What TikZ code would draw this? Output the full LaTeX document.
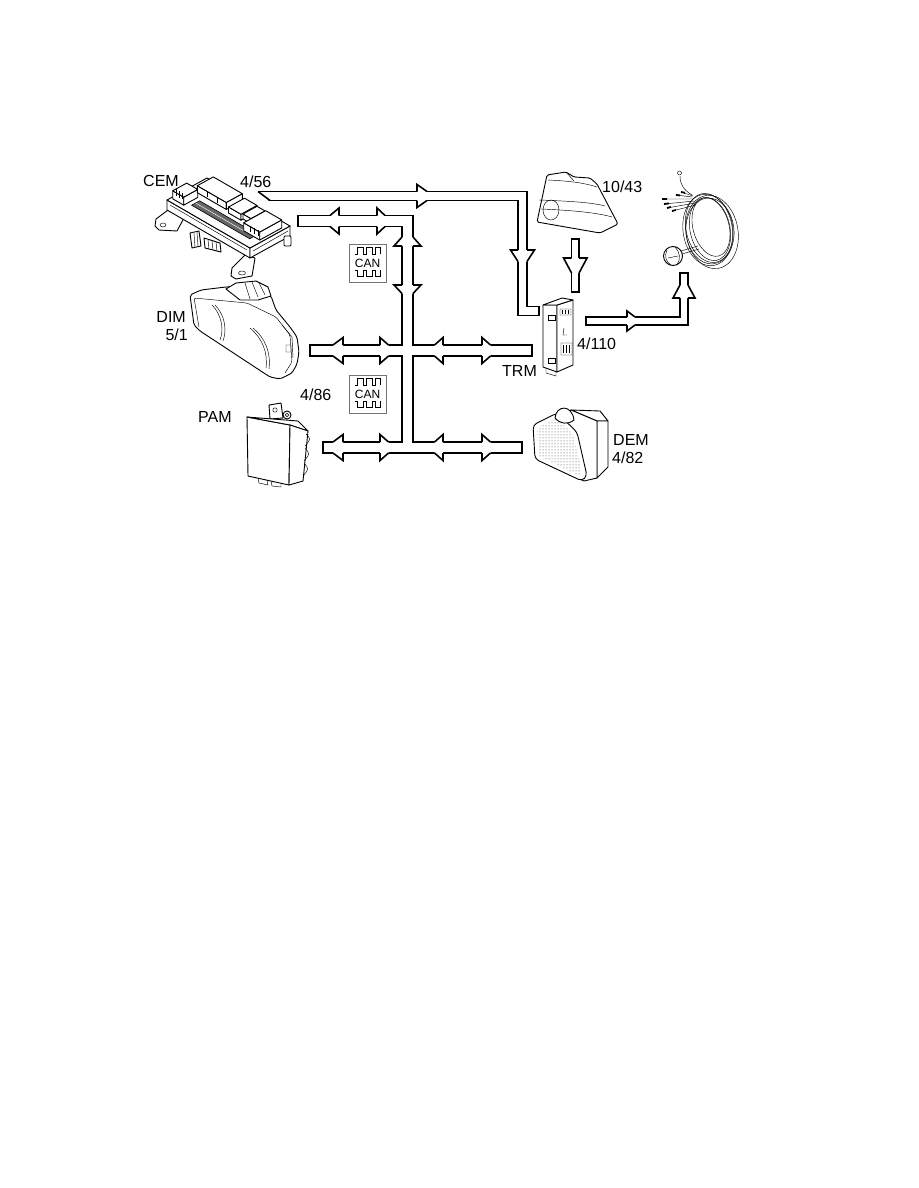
\documentclass[tikz,border=0pt]{standalone}
\usepackage{fontspec}
\setmainfont{Liberation Sans}
\usetikzlibrary{patterns}
\tikzset{every node/.style={inner sep=0pt},
  lbl/.style={font=\fontsize{16}{19}\selectfont,anchor=base west},
  part/.style={line width=0.9pt,line join=round,fill=white},
  fine/.style={line width=0.45pt},
  busout/.style={line width=#1},
  busin/.style={line width=#1,white,shorten <=1.6pt,shorten >=1.6pt},
  pics/barb/.style args={#1/#2/#3}{code={
    \fill[white] (0,-#1-#2) -- (#3,-#1) -- (#3,#1) -- (0,#1+#2) -- cycle;
    \draw[line width=1.6pt] (0,-#1) -- (0,-#1-#2) -- (#3,-#1) (0,#1) -- (0,#1+#2) -- (#3,#1);
  }},
  pics/block/.style args={#1/#2/#3}{code={
    \draw[part] (0,0) -- (#1,0.578*#1) -- (#1,0.578*#1-#3) -- (0,-#3) -- cycle;
    \draw[part] (#1,0.578*#1) -- (#1+#2,0.578*#1-0.55*#2) -- (#1+#2,0.578*#1-0.55*#2-#3) -- (#1,0.578*#1-#3) -- cycle;
    \draw[part] (0,-#3) -- (#1,0.578*#1-#3) -- (#1+#2,0.578*#1-0.55*#2-#3) -- (#2,-0.55*#2-#3) -- cycle;
  }},
  pics/canlogo/.style={code={
    \draw[black!55,line width=0.7pt] (0,0) rectangle (37,38);
    \draw[line width=0.9pt] (6,10) -- (8,10) -- (8,3.5) -- (14,3.5) -- (14,10) -- (17,10) -- (17,3.5) -- (23,3.5) -- (23,10) -- (26,10) -- (26,3.5) -- (31,3.5) -- (31,10);
    \node[font=\fontsize{12}{12}\selectfont] (-txt) at (18.5,19) {CAN};
    \draw[line width=0.9pt] (6,26) -- (8,26) -- (8,32.5) -- (14,32.5) -- (14,26) -- (17,26) -- (17,32.5) -- (23,32.5) -- (23,26) -- (26,26) -- (26,32.5) -- (31,32.5) -- (31,26);
  }}
}
\begin{document}
\begin{tikzpicture}[x=1pt,y=-1pt]
\useasboundingbox (0,0) rectangle (918,1188);

% CEM
\draw[part] (168,210) -- (156,219) -- (155,226) -- (159,230) -- (177,231) -- (184,218) -- cycle;
\draw[fine] (163,225) ellipse (3 and 2);
\draw[part] (245,255) -- (232,268) -- (231,276) -- (236,279) -- (252,276) -- (255,258) -- cycle;
\draw[fine] (242,273) ellipse (3.5 and 2);
\draw[part] (190,233) -- (199,231) -- (201,246) -- (192,248) -- cycle;
\draw[part] (204,238) -- (220,243) -- (221,252) -- (205,248) -- cycle;
\draw[fine] (194,233) -- (195,247) (197,232) -- (198,246) (208,240) -- (209,249) (212,241) -- (213,250) (216,242) -- (217,251);
\draw[part] (167,200) -- (250,248) -- (250,258) -- (167,210) -- cycle;
\draw[part] (250,248) -- (290,226) -- (290,236) -- (250,258) -- cycle;
\draw[part] (167,200) -- (207,178) -- (290,226) -- (250,248) -- cycle;
\draw[fill=black!60,line width=0.6pt] (191.6,205.2) -- (249.7,238.8) -- (257.7,234.4) -- (199.6,200.8) -- cycle;
\draw[fine,white] (195.6,203) -- (253.7,236.6);
\draw[fine] (170,205) -- (247,250) (253,251) -- (288,231);
\pic at (172.7,198.8) {block=11/14/8};
\draw[fine] (176,196) -- (176,189) (179,198) -- (179,191) (182,199) -- (182,193);
\pic at (197.3,192.7) {block=29/16/7};
\draw[fine] (207,191) -- (207,197) (217,197) -- (217,203);
\pic at (228.5,213) {block=12.5/16/6};
\pic at (243,219) {block=8/14/5};
\pic at (243.7,230.8) {block=16/22/8};
\draw[fine] (250,226) -- (250,232) (254,228) -- (254,234) (258,230) -- (258,236);
\draw[part,rounded corners=1pt] (284,236) rectangle (291,246);

% DIM
\draw[part,rounded corners=2pt] (190,295) -- (201,290) -- (226,287) -- (246,286) -- (260,289) -- (271,296) -- (276,310) -- (290,327) -- (297,337) -- (299,352) -- (297,364) -- (292,373) -- (280,379) -- (270,377) -- (200,331) -- (194,325) -- cycle;
\draw[fine,rounded corners=2pt] (199,327) -- (194,298) -- (247,303) -- (276,317) -- (290,335) -- (292,362) -- (285,373);
\draw[fine] (212,305) .. controls (222,315) and (224,330) .. (220,340);
\draw[fine] (215,305) .. controls (225,315) and (227,330) .. (223,341);
\draw[fine] (250,328) .. controls (262,338) and (268,352) .. (266,368);
\draw[fine] (253,328) .. controls (265,338) and (271,352) .. (269,369);
\draw[part] (226,289) -- (236,283) -- (256,281) -- (268,287) -- (271,296) -- (258,300) -- (240,300) -- cycle;
\draw[fine] (245,283) -- (250,299) (252,282) -- (258,297) (259,283) -- (265,295);
\draw[fine] (282,325) -- (292,337) -- (293,358) (286,345) rectangle (291,352);

% PAM
\draw[part] (269,405) -- (281,403) -- (283,418) -- (270,419) -- cycle;
\draw[fine] (275,410) circle (2.2);
\draw[part] (247,417) -- (290,425) -- (289,485) -- (248,476) -- cycle;
\draw[part] (247,417) -- (298,421) -- (308,431) -- (290,425) -- cycle;
\draw[part] (290,425) -- (308,431) -- (303,481) -- (289,485) -- cycle;
\draw[part] (287,415) circle (4);
\draw[fine] (287,415) circle (1.8);
\draw[fine] (306,434) .. controls (311,439) .. (305,446) (305,448) .. controls (310,454) .. (304,461) (304,463) .. controls (309,469) .. (303,476);
\draw[fine] (258,478) -- (259,483) -- (268,485) -- (267,480) (271,481) -- (272,486) -- (281,487) -- (281,483);

% DEM
\draw[part] (571,410) -- (600,411) -- (608,421) -- (597,421) -- cycle;
\draw[part] (597,421) -- (608,421) -- (608,467) -- (597,478) -- cycle;
\draw[part] (571,410) -- (597,421) -- (597,478) -- (584,481) -- (560,470) -- (560,420) -- cycle;
\draw[part,rounded corners=4pt] (533,425) -- (557,413) -- (577,432) -- (587,476) -- (582,481) -- (535,459) -- cycle;
\fill[pattern=dots,pattern color=black!75,rounded corners=3pt] (537,428) -- (556,418) -- (573,434) -- (582,472) -- (579,476) -- (538,456) -- cycle;
\draw[part] (555,418) .. controls (556,405) and (572,404) .. (574,420) .. controls (568,425) and (560,424) .. (555,418);

% TRM
\draw[part] (543,305) -- (557,305) -- (557,372) -- (543,367) -- cycle;
\draw[part] (557,305) -- (573,300) -- (573,365) -- (557,372) -- cycle;
\draw[part] (543,305) -- (562,298) -- (573,300) -- (557,305) -- cycle;
\draw[fine] (548,315) rectangle (555,320) (548,358) rectangle (555,363);
\draw[fine] (560,309) rectangle (571,315) (561,343) rectangle (572,355) (564,328) -- (563,335) -- (567,335);
\draw[fine] (562,310) -- (562,314) (565,310) -- (565,314) (568,310) -- (568,314) (563,345) -- (563,353) (566,345) -- (566,353) (569,345) -- (569,353);
\draw[fine] (546,368) -- (546,373) -- (556,376) -- (556,372);

% tail light 10/43
\draw[part,rounded corners=1.5pt] (537,222) -- (547,175) -- (566,172) -- (574,177) -- (590,178) -- (597,184) -- (618,224) -- (600,233) -- cycle;
\draw[fine] (548,180) .. controls (570,181) and (585,183) .. (597,187);
\draw[fine] (566,172) -- (574,181);
\draw[fine] (539,200) .. controls (565,201) and (590,202) .. (605,206);
\draw[fine] (541,209) .. controls (565,210) and (595,212) .. (612,217);
\draw[fine] (551,210) ellipse (8 and 10);

% trailer harness
\draw[fine,rotate around={12:(709,228)}] (709,228) ellipse (23 and 35);
\draw[fine,rotate around={12:(710,229)}] (710,229) ellipse (20 and 32);
\draw[fine,rotate around={8:(708,230)}] (708,230) ellipse (25 and 36);
\draw[fine,rotate around={15:(711,227)}] (711,227) ellipse (18 and 30);
\draw[fine,rotate around={5:(710,231)}] (710,231) ellipse (24 and 33);
\draw[fine,rotate around={10:(712,232)}] (712,232) ellipse (26 and 37);
\draw[fine] (693,199) -- (662,199) (694,201) -- (664,204) (695,203) -- (667,208) (696,205) -- (672,211) (692,197) -- (676,195) (693,196) -- (681,192);
\draw[line width=1.8pt] (662,199) -- (667,199) (664,204) -- (669,203.4) (667,208) -- (671,207) (672,211) -- (676,210) (676,195) -- (680,195.4) (681,192) -- (685,192.8);
\draw[fine] (692,195) .. controls (684,190) and (680,185) .. (680,176);
\draw[fine] (679.5,173) circle (2);
\draw[fine] (681,251) -- (698,246) (682,254) -- (699,249);
\draw[part] (673,256) circle (9.5);
\draw[fine] (667,250) .. controls (664,256) and (666,262) .. (671,265) (675,247) .. controls (680,252) and (681,259) .. (677,265) (668,258) -- (678,256);

% channels
\coordinate (t0) at (258,196);
\coordinate (t1) at (522.5,196);
\coordinate (t2) at (522.5,311);
\coordinate (t3) at (540,311);
\coordinate (c0) at (297,221);
\coordinate (c1) at (407.5,221);
\coordinate (c2) at (407.5,447.5);
\coordinate (d0) at (309,350.5);
\coordinate (d1) at (533,350.5);
\coordinate (p0) at (322,447.5);
\coordinate (p1) at (523,447.5);
\coordinate (l0) at (575.3,238);
\coordinate (l1) at (575.3,293);
\coordinate (h0) at (585,321);
\coordinate (h1) at (684,321);
\coordinate (h2) at (684,272);
\draw[busout=10.6pt] (t0) -- (t1) -- (t2) -- (t3);
\draw[busout=12.6pt] (c0) -- (c1) -- (c2);
\draw[busout=12.6pt] (d0) -- (d1);
\draw[busout=12.6pt] (p0) -- (p1);
\draw[busout=9.1pt] (l0) -- (l1);
\draw[busout=9.6pt] (h0) -- (h1) -- (h2);
\draw[busin=7.4pt,shorten <=0pt] (t0) -- (t1) -- (t2) -- (t3);
\draw[busin=9.4pt] (c0) -- (c1) -- (c2);
\draw[busin=9.4pt] (d0) -- (d1);
\draw[busin=9.4pt] (p0) -- (p1);
\draw[busin=5.9pt] (l0) -- (l1);
\draw[busin=6.4pt] (h0) -- (h1) -- (h2);
\fill[white] (257,192.8) -- (270,201.6) -- (257,201.6) -- cycle;
\draw[line width=1.6pt] (258,191.5) -- (270,200.5);

% arrow heads
\pic at (417,196) {barb=4.5/7/10};
\pic[rotate=-90] at (522.5,250) {barb=4.5/7.5/11.5};
\pic[rotate=-90] at (575.3,258) {barb=3.75/8/15};
\pic at (627,321) {barb=4/6/8};
\pic[rotate=90] at (684,298) {barb=4/7/13};
\pic[rotate=180] at (339,221) {barb=5.5/7.5/9};
\pic at (377,221) {barb=5.5/7.5/8};
\pic[rotate=90] at (407.5,246) {barb=5.5/8/9};
\pic[rotate=-90] at (407.5,285) {barb=5.5/8/8.5};
\pic[rotate=180] at (343,350.5) {barb=5.5/7.5/10};
\pic at (380,350.5) {barb=5.5/7.5/8.5};
\pic[rotate=180] at (443,350.5) {barb=5.5/7.5/8.5};
\pic at (482,350.5) {barb=5.5/7.5/8.5};
\pic[rotate=180] at (343,447.5) {barb=5.5/7.5/10};
\pic at (380,447.5) {barb=5.5/7.5/8.5};
\pic[rotate=180] at (443,447.5) {barb=5.5/7.5/8.5};
\pic at (482,447.5) {barb=5.5/7.5/8.5};

\pic (canA) at (349,244) {canlogo};
\pic (canB) at (349,375) {canlogo};

% labels
\node[lbl] (cem) at (143,186) {CEM};
\node[lbl] (cemno) at (240,187) {4/56};
\node[lbl] (lampno) at (602,192) {10/43};
\node[lbl,anchor=base east] (dim) at (186,322) {DIM};
\node[lbl,anchor=base east] (dimno) at (188,340) {5/1};
\node[lbl] (pamno) at (300,400) {4/86};
\node[lbl] (pam) at (198,422) {PAM};
\node[lbl] (trm) at (502,376) {TRM};
\node[lbl] (trmno) at (577,349) {4/110};
\node[lbl] (dem) at (613,445) {DEM};
\node[lbl] (demno) at (612,463) {4/82};
\end{tikzpicture}
\end{document}
